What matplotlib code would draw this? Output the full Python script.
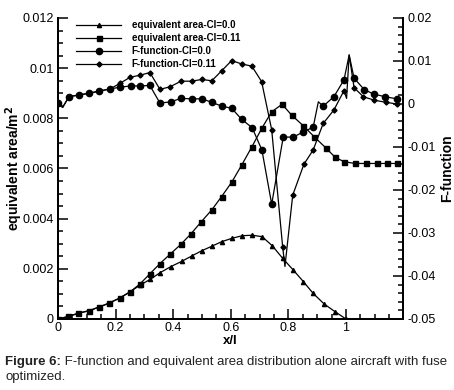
import numpy as np
import matplotlib
matplotlib.use('Agg')
import matplotlib.pyplot as plt
from matplotlib.lines import Line2D
from matplotlib.ticker import MultipleLocator, FuncFormatter

plt.rcParams['font.family'] = ['Liberation Sans', 'DejaVu Sans']
plt.rcParams['axes.unicode_minus'] = False

# equivalent area, Cl=0.0 (triangles)
x_area0 = [0.0, 0.036, 0.071, 0.108, 0.141, 0.177, 0.215, 0.250, 0.285, 0.320,
           0.355, 0.392, 0.430, 0.464, 0.499, 0.534, 0.568, 0.605, 0.640, 0.675,
           0.709, 0.744, 0.780, 0.817, 0.852, 0.886, 0.924, 0.962, 1.0]
area0 = [0.0, 0.10, 0.23, 0.33, 0.47, 0.63, 0.84, 1.08, 1.35, 1.58,
         1.85, 2.09, 2.30, 2.51, 2.72, 2.90, 3.08, 3.22, 3.32, 3.34,
         3.28, 2.92, 2.42, 1.95, 1.49, 1.02, 0.60, 0.29, 0.0]  # x1e-3

# equivalent area, Cl=0.11 (squares)
x_area11 = [0.0, 0.036, 0.071, 0.108, 0.141, 0.177, 0.215, 0.250, 0.285, 0.319,
            0.354, 0.389, 0.427, 0.462, 0.497, 0.534, 0.568, 0.603, 0.638, 0.673,
            0.709, 0.742, 0.778, 0.811, 0.852, 0.890, 0.931, 0.962, 0.993, 1.031,
            1.068, 1.106, 1.141, 1.176]
area11 = [0.0, 0.10, 0.23, 0.33, 0.47, 0.63, 0.84, 1.08, 1.40, 1.80,
          2.21, 2.58, 2.98, 3.40, 3.87, 4.35, 4.88, 5.45, 6.14, 6.86,
          7.63, 8.26, 8.56, 8.13, 7.70, 7.26, 6.81, 6.45, 6.27, 6.20,
          6.20, 6.20, 6.20, 6.20]  # x1e-3

# F-function, Cl=0.0 (circles)
x_f0 = [0.0, 0.016, 0.038, 0.073, 0.109, 0.143, 0.181, 0.215, 0.252, 0.285,
        0.319, 0.354, 0.391, 0.427, 0.464, 0.499, 0.534, 0.568, 0.603, 0.638,
        0.674, 0.708, 0.742, 0.782, 0.817, 0.852, 0.886, 0.904, 0.921, 0.958,
        0.993, 1.011, 1.028, 1.064, 1.097, 1.135, 1.176]
f0 = [0.0002, -0.0008, 0.0017, 0.0021, 0.0025, 0.0030, 0.0035, 0.0039, 0.0042, 0.0042,
      0.0043, 0.0002, 0.0005, 0.0013, 0.0012, 0.0012, 0.0004, -0.0005, -0.0010, -0.0036,
      -0.0055, -0.0107, -0.0233, -0.0077, -0.0077, -0.0065, -0.0054, 0.0005, -0.0005, 0.0017,
      0.0056, 0.0114, 0.0060, 0.0033, 0.0023, 0.0017, 0.0012]

# F-function, Cl=0.11 (diamonds)
x_f11 = [0.0, 0.016, 0.038, 0.073, 0.109, 0.143, 0.181, 0.215, 0.250, 0.285,
         0.319, 0.354, 0.389, 0.427, 0.464, 0.499, 0.534, 0.568, 0.603, 0.638,
         0.673, 0.707, 0.742, 0.780, 0.788, 0.815, 0.854, 0.886, 0.921, 0.958,
         0.993, 1.002, 1.011, 1.028, 1.060, 1.097, 1.138, 1.176]
f11 = [0.0002, -0.0008, 0.0017, 0.0021, 0.0025, 0.0030, 0.0035, 0.0048, 0.0062, 0.0067,
       0.0073, 0.0034, 0.0040, 0.0053, 0.0053, 0.0057, 0.0054, 0.0077, 0.0101, 0.0093,
       0.0088, 0.0052, -0.0060, -0.0332, -0.0378, -0.0212, -0.0140, -0.0107, -0.0045, -0.0014,
       0.0031, 0.0013, 0.0114, 0.0038, 0.0017, 0.0009, 0.0004, 0.0000]

labels = ['equivalent area-Cl=0.0', 'equivalent area-Cl=0.11',
          'F-function-Cl=0.0', 'F-function-Cl=0.11']

fig = plt.figure(figsize=(4.54, 3.9), dpi=100)
ax = fig.add_axes([0.1278, 0.1821, 0.7599, 0.7718])
ax2 = ax.twinx()

lw = 0.9
a0 = np.array(area0) * 1e-3
a11 = np.array(area11) * 1e-3
ax.plot(x_area0, a0, 'k-', lw=lw, marker='^', ms=3)
ax.plot(x_area11, a11, 'k-', lw=lw, marker='s', ms=3.6)

# points on the line without a marker (spikes / dips)
skip0 = [1, 27, 31]
skip11 = [1, 24, 31, 32]
m0 = [i for i in range(len(x_f0)) if i not in skip0]
m11 = [i for i in range(len(x_f11)) if i not in skip11]
ax2.plot(x_f0, f0, 'k-', lw=lw)
ax2.plot(np.array(x_f0)[m0], np.array(f0)[m0], 'ko', ms=4.5, ls='none')
ax2.plot(x_f11, f11, 'k-', lw=lw)
ax2.plot(np.array(x_f11)[m11], np.array(f11)[m11], 'kD', ms=2.6, ls='none')

ax.set_xlim(0, 1.198)
ax.set_ylim(0, 0.012)
ax2.set_ylim(-0.05, 0.02)


def fmt_tick(v, p):
    v = round(v, 6)
    if v == 0:
        return '0'
    return f'{v:g}'


fmt = FuncFormatter(fmt_tick)
ax.xaxis.set_major_locator(MultipleLocator(0.2))
ax.xaxis.set_minor_locator(MultipleLocator(0.05))
ax.yaxis.set_major_locator(MultipleLocator(0.002))
ax.yaxis.set_minor_locator(MultipleLocator(0.0005))
ax2.yaxis.set_major_locator(MultipleLocator(0.01))
ax2.yaxis.set_minor_locator(MultipleLocator(0.002))
for a in (ax.xaxis, ax.yaxis, ax2.yaxis):
    a.set_major_formatter(fmt)

ax.tick_params(which='both', direction='in', top=False, right=False, width=1.1,
               labelsize=9, pad=3)
ax.tick_params(axis='x', pad=2)
ax.tick_params(which='major', length=7)
ax.tick_params(which='minor', length=3.5)
ax2.tick_params(which='both', direction='in', width=1.1, labelsize=9, pad=3)
ax2.tick_params(which='major', length=7)
ax2.tick_params(which='minor', length=3.5)

for a in (ax, ax2):
    a.spines['top'].set_visible(False)
    for s in ('left', 'right', 'bottom'):
        a.spines[s].set_linewidth(1.4)

ax.set_xlabel('x/l', fontsize=9.5, weight='bold')
ax.xaxis.set_label_coords(0.5, -0.053)
ax.set_ylabel('equivalent area/m$^\\mathbf{2}$', fontsize=10, weight='bold')
ax.yaxis.set_label_coords(-0.097, 0.5)
ax2.set_ylabel('F-function', fontsize=10, weight='bold')
ax2.yaxis.set_label_coords(1.108, 0.5)

handles = [Line2D([], [], color='k', lw=lw, marker='^', ms=3),
           Line2D([], [], color='k', lw=lw, marker='s', ms=3.6),
           Line2D([], [], color='k', lw=lw, marker='o', ms=4.5),
           Line2D([], [], color='k', lw=lw, marker='D', ms=2.6)]
fig.legend(handles, labels, loc='upper left', bbox_to_anchor=(0.157, 0.96),
           frameon=False, borderpad=0, handlelength=4.6, handletextpad=1.1,
           labelspacing=0.3, prop={'size': 7, 'weight': 'bold'})

# caption
cap_y1 = 1 - 362 / 390
cap_y2 = 1 - 377 / 390
cap_fs = 9.5
t1 = fig.text(5 / 454, cap_y1, 'Figure 6:', fontsize=cap_fs, weight='bold',
              va='center', color='#222222')
fig.canvas.draw()
bb = t1.get_window_extent()
fig.text(bb.x1 / fig.bbox.width, cap_y1,
         ' F-function and equivalent area distribution alone aircraft with fuse',
         fontsize=cap_fs, va='center', color='#222222')
fig.text(5 / 454, cap_y2, 'optimized.', fontsize=cap_fs, va='center', color='#222222')

fig.savefig('out.png', dpi=100)
